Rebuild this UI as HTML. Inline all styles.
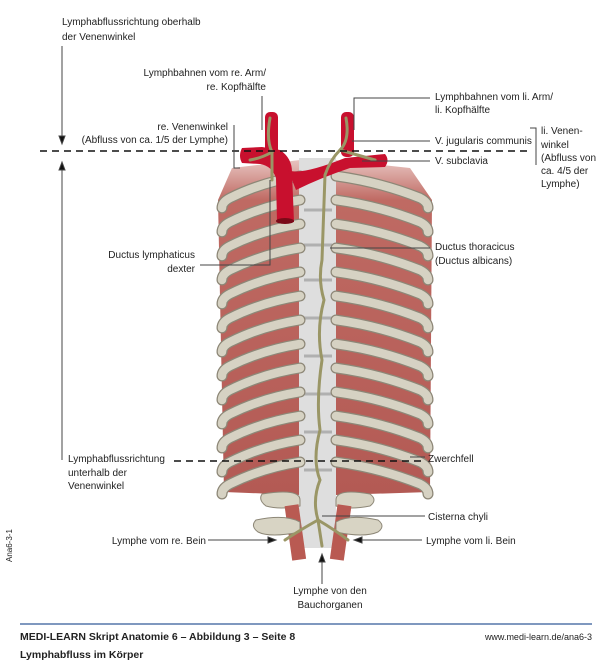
<!DOCTYPE html><html><head><meta charset="utf-8"><style>
body{margin:0;background:#fff}
svg{display:block}
text{font-family:"Liberation Sans",sans-serif;font-size:10px;fill:#222}
.b{font-weight:bold;font-size:10.5px}
</style></head><body>
<svg width="600" height="662" viewBox="0 0 600 662" xmlns="http://www.w3.org/2000/svg">
<defs>
<linearGradient id="mg" x1="0" y1="0" x2="0" y2="1"><stop offset="0" stop-color="#e8c4c0"/><stop offset="0.12" stop-color="#bf6a63"/><stop offset="1" stop-color="#b35a54"/></linearGradient>
<g id="rl"><path d="M300 -2 C275 2 250 10 230 20 Q222 24 222 30" fill="none" stroke="#8d8777" stroke-width="11" stroke-linecap="round"/><path d="M300 -2 C275 2 250 10 230 20 Q222 24 222 30" fill="none" stroke="#d6d2c3" stroke-width="8.5" stroke-linecap="round"/></g>
<g id="rr"><path d="M336 -2 C365 2 395 10 420 20 Q428 24 428 30" fill="none" stroke="#8d8777" stroke-width="11" stroke-linecap="round"/><path d="M336 -2 C365 2 395 10 420 20 Q428 24 428 30" fill="none" stroke="#d6d2c3" stroke-width="8.5" stroke-linecap="round"/></g>
</defs>
<path d="M232 168 L300 160 L300 495 L224 492 L218 200 Z" fill="url(#mg)"/>
<path d="M336 160 L410 168 L432 200 L430 492 L336 495 Z" fill="url(#mg)"/>
<rect x="299" y="158" width="37" height="390" fill="#dedede"/>
<g stroke="#b0b0b0" stroke-width="3">
<line x1="304" y1="210" x2="332" y2="210"/><line x1="304" y1="245" x2="332" y2="245"/><line x1="304" y1="280" x2="332" y2="280"/><line x1="304" y1="318" x2="332" y2="318"/><line x1="304" y1="356" x2="332" y2="356"/><line x1="304" y1="394" x2="332" y2="394"/><line x1="304" y1="432" x2="332" y2="432"/><line x1="304" y1="470" x2="332" y2="470"/></g>
<g>
<use href="#rl" y="178"/><use href="#rl" y="202"/><use href="#rl" y="226"/><use href="#rl" y="250"/><use href="#rl" y="274"/><use href="#rl" y="298"/><use href="#rl" y="322"/><use href="#rl" y="346"/><use href="#rl" y="370"/><use href="#rl" y="394"/><use href="#rl" y="418"/><use href="#rl" y="442"/><use href="#rl" y="464"/>
<use href="#rr" y="178"/><use href="#rr" y="202"/><use href="#rr" y="226"/><use href="#rr" y="250"/><use href="#rr" y="274"/><use href="#rr" y="298"/><use href="#rr" y="322"/><use href="#rr" y="346"/><use href="#rr" y="370"/><use href="#rr" y="394"/><use href="#rr" y="418"/><use href="#rr" y="442"/><use href="#rr" y="464"/>
</g>
<path d="M262 494 Q300 488 300 500 L300 506 Q280 510 266 506 Q258 500 262 494Z" fill="#d8d4c4" stroke="#8d8777"/>
<path d="M336 500 Q336 488 370 494 Q378 500 370 506 Q350 510 336 506Z" fill="#d8d4c4" stroke="#8d8777"/>
<rect x="288" y="505" width="14" height="55" fill="#b95a52" transform="rotate(-8 295 530)"/>
<rect x="334" y="505" width="14" height="55" fill="#b95a52" transform="rotate(8 341 530)"/>
<path d="M256 520 Q285 514 300 522 L300 532 Q270 538 258 532 Q250 526 256 520Z" fill="#d8d4c4" stroke="#8d8777"/>
<path d="M336 522 Q350 514 378 520 Q386 526 378 532 Q364 538 336 532Z" fill="#d8d4c4" stroke="#8d8777"/>
<g fill="#c8102e">
<rect x="265" y="112" width="13" height="50" rx="5"/>
<rect x="341" y="112" width="13" height="45" rx="5"/>
<path d="M242 148 L262 147 L280 150 Q292 158 292 172 L294 222 L277 222 L276 178 Q272 166 260 164 L242 163 Q238 156 242 148 Z"/>
<path d="M288 170 Q300 176 345 158 L385 154 Q390 160 385 167 L350 168 Q320 178 296 190 Z"/>
</g>
<ellipse cx="285" cy="221" rx="9" ry="3" fill="#7a0a18"/>
<g fill="none" stroke="#9a9666" stroke-width="3" stroke-linecap="round">
<path d="M346 118 Q350 140 340 150 Q330 160 325 175 L322 260 Q318 280 324 300 Q316 330 322 360 Q316 400 320 430 Q312 460 320 480 Q312 500 318 520"/>
<path d="M318 520 Q300 530 285 540"/><path d="M318 520 Q335 530 348 540"/><path d="M318 520 L322 546"/>
<path d="M270 118 Q266 140 272 152 Q262 158 250 160"/><path d="M272 152 L272 180"/>
<path d="M340 150 L375 160"/>
</g>
<line x1="40" y1="151" x2="528" y2="151" stroke="#111" stroke-width="1.5" stroke-dasharray="7,5"/>
<line x1="174" y1="461" x2="422" y2="461" stroke="#111" stroke-width="1.5" stroke-dasharray="7,5"/>
<g stroke="#444" stroke-width="1" fill="none">
<line x1="62" y1="46" x2="62" y2="140"/><path d="M59 136 L62 144 L65 136Z" fill="#111"/>
<line x1="62" y1="460" x2="62" y2="166"/><path d="M59 170 L62 162 L65 170Z" fill="#111"/>
<path d="M262 96 L262 130"/>
<path d="M234 125 L234 168 L240 168"/>
<path d="M200 265 L270 265 L270 180"/>
<path d="M430 98 L354 98 L354 130"/>
<path d="M430 141 L352 141"/><path d="M430 161 L362 161"/>
<path d="M430 248 L330 248"/>
<path d="M530 128 L536 128 L536 165"/>
<path d="M425 457 L410 457"/>
<path d="M425 516 L322 516"/>
<path d="M208 540 L270 540"/><path d="M268 537 L276 540 L268 543Z" fill="#111"/>
<path d="M422 540 L360 540"/><path d="M362 537 L354 540 L362 543Z" fill="#111"/>
<path d="M322 584 L322 558"/><path d="M319 562 L322 554 L325 562Z" fill="#111"/>
</g>
<text x="62" y="25">Lymphabflussrichtung oberhalb</text><text x="62" y="40">der Venenwinkel</text>
<g text-anchor="end">
<text x="266" y="76">Lymphbahnen vom re. Arm/</text><text x="266" y="90">re. Kopfhälfte</text>
<text x="228" y="130">re. Venenwinkel</text><text x="228" y="143">(Abfluss von ca. 1/5 der Lymphe)</text>
<text x="195" y="258">Ductus lymphaticus</text><text x="195" y="272">dexter</text>
<text x="206" y="544">Lymphe vom re. Bein</text>
</g>
<text x="435" y="100">Lymphbahnen vom li. Arm/</text><text x="435" y="113">li. Kopfhälfte</text>
<text x="435" y="144">V. jugularis communis</text><text x="435" y="164">V. subclavia</text>
<text x="541" y="134">li. Venen-</text><text x="541" y="148">winkel</text><text x="541" y="161">(Abfluss von</text><text x="541" y="174">ca. 4/5 der</text><text x="541" y="187">Lymphe)</text>
<text x="435" y="250">Ductus thoracicus</text><text x="435" y="264">(Ductus albicans)</text>
<text x="68" y="462">Lymphabflussrichtung</text><text x="68" y="476">unterhalb der</text><text x="68" y="489">Venenwinkel</text>
<text x="428" y="462">Zwerchfell</text>
<text x="428" y="520">Cisterna chyli</text>
<text x="426" y="544">Lymphe vom li. Bein</text>
<text x="330" y="594" text-anchor="middle">Lymphe von den</text><text x="330" y="608" text-anchor="middle">Bauchorganen</text>
<text x="12" y="562" transform="rotate(-90 12 562)" style="font-size:8px">Ana6-3-1</text>
<line x1="20" y1="624" x2="592" y2="624" stroke="#5577aa" stroke-width="1.5"/>
<text x="20" y="640" class="b">MEDI-LEARN Skript Anatomie 6 – Abbildung 3 – Seite 8</text>
<text x="20" y="658" class="b">Lymphabfluss im Körper</text>
<text x="592" y="640" text-anchor="end" style="font-size:9px">www.medi-learn.de/ana6-3</text>
</svg>
</body></html>
